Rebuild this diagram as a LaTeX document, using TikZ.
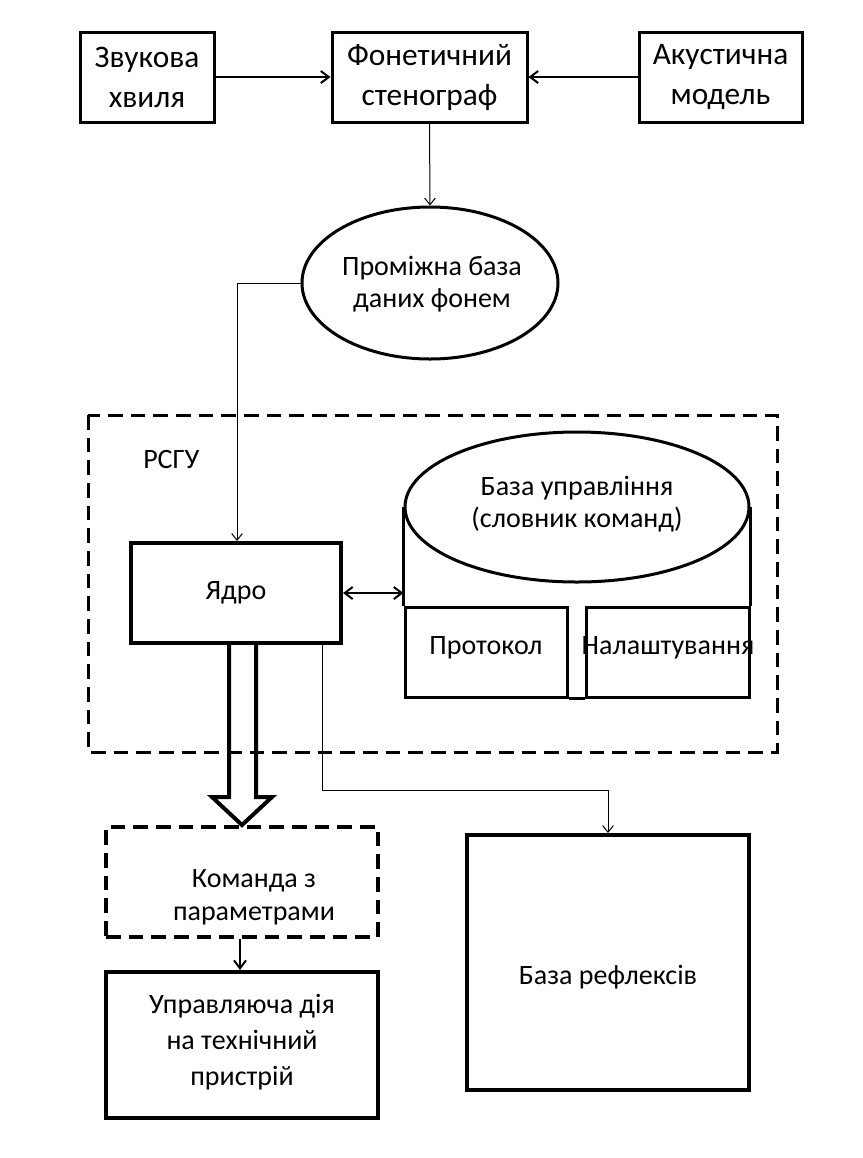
\documentclass[tikz,border=0pt]{standalone}
\usepackage{fontspec}
\setmainfont{Carlito}
\usetikzlibrary{arrows.meta,shapes.geometric,calc}
\begin{document}
\begin{tikzpicture}[x=0.75pt,y=-0.75pt,
  bigfont/.style={font=\fontsize{23.5}{30}\selectfont},
  midfont/.style={font=\fontsize{21}{24.5}\selectfont},
  boxa/.style={draw, line width=2.25pt, inner sep=0pt, align=center, bigfont},
  boxb/.style={draw, line width=3pt, inner sep=0pt, align=center, midfont},
  dashbox/.style={draw, line width=3pt, dash pattern=on 11pt off 6pt, inner sep=0pt},
  txt/.style={inner sep=0pt, align=center, midfont},
  thinarr/.style={line width=0.75pt, -{Straight Barb[length=5pt,width=8pt]}},
  medarr/.style={line width=1.5pt, -{Straight Barb[length=6pt,width=9pt]}},
  line join=miter
]
\useasboundingbox (0,0) rectangle (863,1158);
% top row
\node[boxa, minimum width=100.5pt, minimum height=67.5pt] (zv) at (147,77) {Звукова\\хвиля};
\node[boxa, minimum width=146.25pt, minimum height=67.5pt] (fon) at (429.5,77) {Фонетичний\\стенограф};
\node[boxa, minimum width=122.25pt, minimum height=67.5pt] (ak) at (720.5,77) {Акустична\\модель};
\draw[medarr] (zv.east) -- (fon.west);
\draw[medarr] (ak.west) -- (fon.east);
% intermediate db
\node[draw, ellipse, line width=2.25pt, inner sep=0pt, minimum width=192pt, minimum height=114pt] (pbd) at (430,283) {};
\node[txt] (pbdt) at (432,284) {Проміжна база\\даних фонем};
\draw[thinarr] (fon.south) -- (pbd.north);
% RSGU frame
\draw[line width=2.25pt, dash pattern=on 11pt off 6pt] (88,415) rectangle (777,752);
\node[txt, anchor=west] (rsgu) at (143,460) {РСГУ};
% core
\node[boxb, minimum width=157.5pt, minimum height=75pt] (yad) at (236,593) {Ядро};
\draw[thinarr] (pbd.west) -| (237,0 |- yad.north);
% control base cylinder
\node[draw, ellipse, line width=2.25pt, inner sep=0pt, minimum width=258pt, minimum height=112.5pt] (baza) at (577,507) {};
\node[txt] (bazat) at (577,504) {База управління\\(словник команд)};
\node[draw, line width=2.25pt, inner sep=0pt, minimum width=121.5pt, minimum height=67.5pt] (prot) at (486,652) {};
\node[txt] (prott) at (486,648) {Протокол};
\node[draw, line width=2.25pt, inner sep=0pt, minimum width=122.25pt, minimum height=67.5pt] (nal) at (667.5,652) {};
\node[txt] (nalt) at (668,648) {Налаштування};
\draw[line width=2.25pt] (baza.west) -- (prot.north west);
\draw[line width=2.25pt] (baza.east) -- (nal.north east);
\draw[line width=2.25pt] (prot.south east) -- (nal.south west);
\draw[line width=1.5pt, {Straight Barb[length=6pt,width=9pt]}-{Straight Barb[length=6pt,width=9pt]}] (yad.east) -- (yad.east -| baza.west);
% command with params
\node[dashbox, minimum width=204pt, minimum height=82.5pt] (kom) at (242,882) {};
\node[txt] (komt) at (254,897) {Команда з\\параметрами};
% hollow arrow
\draw[line width=3pt] (229,0 |- yad.south) -- (229,797) -- (212,797) -- (242,825) -- (272,797) -- (256,797) -- (256,0 |- yad.south);
% reflex base
\node[boxb, minimum width=211.5pt, minimum height=191.25pt] (ref) at (608,962.5) {};
\node[txt] (reft) at (608,977) {База рефлексів};
\draw[thinarr] (322,0 |- yad.south) -- (322,790) -| (ref.north);
% control action
\node[boxb, minimum width=204pt, minimum height=109.5pt] (upr) at (242,1045) {};
\node[txt, font=\fontsize{21}{27}\selectfont] (uprt) at (242,1042) {Управляюча дія\\на технічний\\пристрій};
\draw[medarr] (240,0 |- kom.south) -- (240,0 |- upr.north);
\end{tikzpicture}
\end{document}
